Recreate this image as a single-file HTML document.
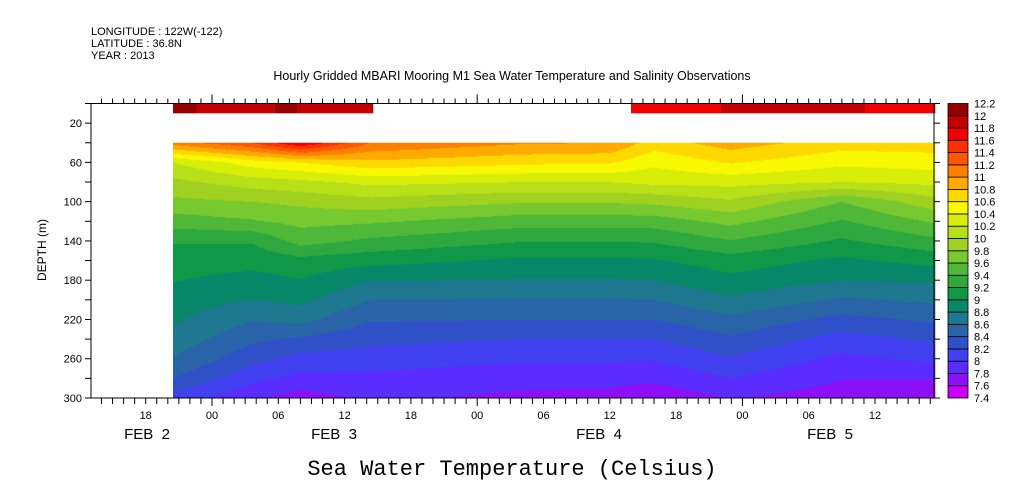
<!DOCTYPE html>
<html><head><meta charset="utf-8">
<style>
body{margin:0;background:#fff;}
svg{display:block;font-family:"Liberation Sans",sans-serif;}
</style></head>
<body>
<svg id="chart" width="1009" height="504" viewBox="0 0 1009 504" xmlns="http://www.w3.org/2000/svg">
<g font-size="11" fill="#000">
<text x="91" y="35">LONGITUDE : 122W(-122)</text>
<text x="91" y="47">LATITUDE : 36.8N</text>
<text x="91" y="59">YEAR : 2013</text>
</g>
<text x="512" y="80" text-anchor="middle" font-size="12.5">Hourly Gridded MBARI Mooring M1 Sea Water Temperature and Salinity Observations</text>
<g id="field"></g>
<g id="axes"></g>
<g id="cbar"></g>
<text x="46" y="250" transform="rotate(-90 46 250)" text-anchor="middle" font-size="12">DEPTH (m)</text>
<text x="512" y="475" text-anchor="middle" font-size="22" font-family="Liberation Mono, monospace">Sea Water Temperature (Celsius)</text>
</svg>
<script>
// data: hours since FEB 3 00:00
const profileTimes = [-3.5, 3.7, 8, 14.3, 28, 36, 40, 46.9, 57, 65.5];
const depths = [40,60,80,100,120,140,160,180,200,220,240,260,280,300];
const profile0 = [11.1,10.2,9.95,9.75,9.5,9.22,9.1,9.01,8.9,8.83,8.72,8.59,8.4,8.1];
const profile1 = [11.4,10.5,10.1,9.8,9.58,9.22,9.07,8.93,8.8,8.61,8.44,8.27,8.05,7.85];
const profile2 = [11.8,10.6,10.15,9.85,9.66,9.48,9.13,8.99,8.85,8.67,8.37,8.13,7.95,7.7];
const profile3 = [11.2,10.75,10.25,9.93,9.63,9.36,9.07,8.81,8.6,8.42,8.26,8.1,7.95,7.85];
const profile4 = [11.02,10.65,10.2,9.82,9.49,9.21,8.96,8.79,8.59,8.4,8.2,8.03,7.88,7.75];
const profile5 = [11.0,10.62,10.2,9.82,9.49,9.21,8.96,8.79,8.59,8.4,8.2,8.03,7.88,7.72];
const profile6 = [10.7,10.45,10.25,9.85,9.5,9.22,8.98,8.8,8.6,8.4,8.2,8.02,7.85,7.65];
const profile7 = [10.9,10.62,10.27,9.97,9.66,9.39,9.1,8.95,8.76,8.55,8.37,8.18,8.0,7.81];
const profile8 = [10.7,10.45,10.2,9.6,9.38,9.17,8.96,8.8,8.57,8.34,8.12,7.95,7.81,7.7];
const profile9 = [10.7,10.5,10.25,9.93,9.63,9.35,9.07,8.83,8.64,8.44,8.24,8.05,7.82,7.57];
const profiles = [profile0,profile1,profile2,profile3,profile4,profile5,profile6,profile7,profile8,profile9];
const stripTimes = [-3.5, 3, 7, 9, 14.5, 38, 46, 50, 56, 65.5];
const stripTemps = [12.05, 11.9, 12.05, 11.9, 11.9, 11.7, 11.8, 11.9, 11.85, 11.7];
const stripGap = [14.5, 38];
const levels = [7.4,7.6,7.8,8.0,8.2,8.4,8.6,8.8,9.0,9.2,9.4,9.6,9.8,10.0,10.2,10.4,10.6,10.8,11.0,11.2,11.4,11.6,11.8,12.0,12.2];
const levelColors = ["#cc00f8","#8c10f8","#5a2cff","#4040f0","#3050c8","#2a64a8","#1e7890","#088868","#109848","#30a840","#50b838","#78c830","#a0d020","#b8e018","#d8ee08","#f8f800","#ffd800","#ffaa00","#ff8000","#ff5800","#ff3000","#f00000","#c40000","#960000"];

const NS="http://www.w3.org/2000/svg";
const X0=91,X1=934,Y0=103.5,Y1=398;
const xScale=h=>212+11.05*h;
const yScale=d=>Y0+(d)*(Y1-Y0)/300;
const invX=x=>(x-212)/11.05;
const invY=y=>(y-Y0)*300/(Y1-Y0);
function colorFor(t){for(let i=0;i<levelColors.length;i++){if(t<levels[i+1])return levelColors[i];}return levelColors[levelColors.length-1];}
function interp(arrX,arrY,x){if(x<=arrX[0])return arrY[0];for(let i=1;i<arrX.length;i++){if(x<=arrX[i]){const f=(x-arrX[i-1])/(arrX[i]-arrX[i-1]);return arrY[i-1]+f*(arrY[i]-arrY[i-1]);}}return arrY[arrY.length-1];}
function tempAt(h,d){
  const col=profiles.map(p=>interp(depths,p,d));
  return interp(profileTimes,col,h);
}
function mk(tag,attrs,parent){const e=document.createElementNS(NS,tag);for(const k in attrs)e.setAttribute(k,attrs[k]);parent.appendChild(e);return e;}
const field=document.getElementById('field');
const xs=xScale(profileTimes[0]),xe=xScale(profileTimes[profileTimes.length-1]);
const step=2;
for(let x=Math.round(xs);x<Math.min(xe,X1);x+=step){
  const h=invX(x+step/2);
  let yStart=yScale(depths[0]),cur=null,runStart=yStart;
  for(let y=yStart;y<Y1;y+=1){
    const c=colorFor(tempAt(h,invY(y+0.5)));
    if(c!==cur){
      if(cur){const r=mk('rect',{x:x,y:runStart,width:step+0.3,height:y-runStart+0.3,fill:cur},field);
        
        }
      cur=c;runStart=y;
    }
  }
  const r=mk('rect',{x:x,y:runStart,width:step+0.3,height:Y1-runStart,fill:cur},field);
  
  
}
// surface strip
for(let x=Math.round(xs);x<X1;x+=step){
  const h=invX(x+step/2);
  if(h>stripGap[0]&&h<stripGap[1])continue;
  const r=mk('rect',{x:x,y:yScale(0.5),width:step+0.3,height:yScale(10)-yScale(0.5),fill:colorFor(interp(stripTimes,stripTemps,h))},field);
  
  
}
// axes
const axes=document.getElementById('axes');
const frame=mk('rect',{x:X0,y:Y0,width:X1-X0,height:Y1-Y0,fill:'none',stroke:'#000','stroke-width':1},axes);


const yTicks=[20,60,100,140,180,220,260,300];
for(let d=0;d<=300;d+=20){
  const y=yScale(d);
  mk('line',{x1:X0-6,x2:X0,y1:y,y2:y,stroke:'#000'},axes);
  mk('line',{x1:X1,x2:X1+6,y1:y,y2:y,stroke:'#000'},axes);
}
yTicks.forEach(d=>{const t=mk('text',{x:X0-9,y:yScale(d)+4,'text-anchor':'end','font-size':11},axes);t.textContent=d;
  
  });
for(let h=-11;h<=65;h++){
  const x=xScale(h);if(x<X0||x>X1)continue;
  const big=(h%24===0);
  mk('line',{x1:x,x2:x,y1:Y1,y2:Y1+(big?8:6),stroke:'#000'},axes);
  mk('line',{x1:x,x2:x,y1:Y0,y2:Y0-(big?9:5),stroke:'#000'},axes);
}
const xTickHours=[-6,0,6,12,18,24,30,36,42,48,54,60];
const xTickLabels=["18","00","06","12","18","00","06","12","18","00","06","12"];
xTickHours.forEach((h,i)=>{const t=mk('text',{x:xScale(h),y:419,'text-anchor':'middle','font-size':11},axes);t.textContent=xTickLabels[i];
  
  });
const dateX=[147,334,599,830];
const dateLabels=["FEB  2","FEB  3","FEB  4","FEB  5"];
dateX.forEach((x,i)=>{const t=mk('text',{x:x,y:439,'text-anchor':'middle','font-size':15},axes);t.textContent=dateLabels[i];t.style.whiteSpace='pre';
  
  });
// colorbar
const cbar=document.getElementById('cbar');
const n=levelColors.length,bh=(Y1-Y0)/n;
levelColors.forEach((c,i)=>{const r=mk('rect',{x:948,y:Y1-(i+1)*bh,width:20,height:bh,fill:c,stroke:'#000','stroke-width':0.8},cbar);
  
  });
levels.forEach((l,i)=>{const t=mk('text',{x:974,y:Y1-i*bh+4,'font-size':11},cbar);t.textContent=l;
  
  });
</script>
</body></html>
